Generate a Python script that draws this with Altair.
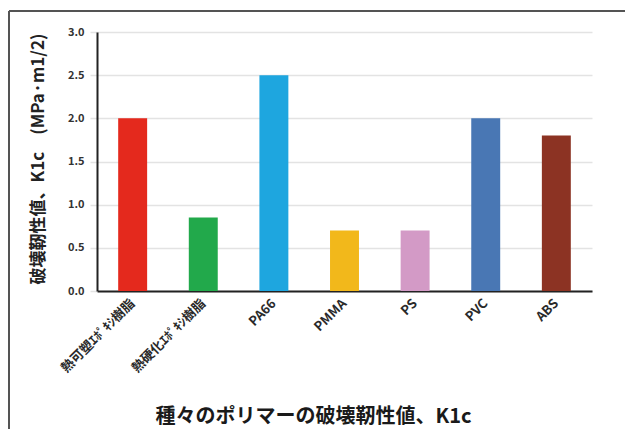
import altair as alt
import pandas as pd

# Fracture toughness K1c of common polymers
polymers = ["熱可塑ｴﾎﾟｷｼ樹脂", "熱硬化ｴﾎﾟｷｼ樹脂", "PA66", "PMMA", "PS", "PVC", "ABS"]
k1c = [2.0, 0.85, 2.5, 0.7, 0.7, 2.0, 1.8]
bar_colors = ["#E4291D", "#22A94B", "#1EA6DF", "#F2B81B", "#D39AC6", "#4977B4", "#8C3323"]
y_ticks = [0.0, 0.5, 1.0, 1.5, 2.0, 2.5, 3.0]

df = pd.DataFrame({"polymer": polymers, "k1c": k1c})

FONT = "Noto Sans CJK JP"
W, H = 495, 259

bars = alt.Chart(df).mark_bar().encode(
    x=alt.X(
        "polymer:N",
        sort=polymers,
        scale=alt.Scale(paddingInner=0.59, paddingOuter=0.3),
        axis=alt.Axis(
            title="種々のポリマーの破壊靭性値、K1c",
            titleFont=FONT,
            titleFontSize=20,
            titleFontWeight="bold",
            titleColor="#1a1a1a",
            titleX=216,
            titleY=125,
            titleAnchor="middle",
            titleAlign="center",
            titleBaseline="middle",
            labelAngle=-45,
            labelAlign="right",
            labelBaseline="middle",
            labelFont=FONT,
            labelFontSize=13,
            labelFontWeight="bold",
            labelColor="#2a2a2a",
            labelPadding=10,
            ticks=False,
            domainColor="#222222",
            domainWidth=2,
        ),
    ),
    y=alt.Y(
        "k1c:Q",
        scale=alt.Scale(domain=[0, 3]),
        axis=alt.Axis(
            values=y_ticks,
            format=".1f",
            title="破壊靭性値、K1c　(MPa·m1/2)",
            titleFont=FONT,
            titleFontSize=17,
            titleFontWeight="bold",
            titleColor="#222222",
            titleX=-59,
            titleY=H / 2 - 3,
            titleAngle=-90,
            titleAlign="center",
            titleBaseline="middle",
            labelFont=FONT,
            labelFontSize=11,
            labelFontWeight="bold",
            labelColor="#333333",
            labelPadding=6,
            tickSize=7,
            tickColor="#e3e3e3",
            tickWidth=1.5,
            grid=True,
            gridColor="#e3e3e3",
            gridWidth=1.5,
            domainColor="#222222",
            domainWidth=2,
        ),
    ),
    color=alt.Color(
        "polymer:N",
        scale=alt.Scale(domain=polymers, range=bar_colors),
        legend=None,
    ),
)

# thin frame along the top and left edges of the figure
frame_top = alt.Chart(df).mark_rule(color="#555555", strokeWidth=1.5).encode(
    x=alt.value(-88), x2=alt.value(540), y=alt.value(-21)
)
frame_left = alt.Chart(df).mark_rule(color="#555555", strokeWidth=1.5).encode(
    x=alt.value(-88), y=alt.value(-21), y2=alt.value(400)
)

chart = (
    alt.layer(bars, frame_top, frame_left)
    .properties(
        width=W,
        height=H,
        autosize=alt.AutoSizeParams(type="none"),
        padding={"left": 97, "top": 32, "right": 33, "bottom": 138},
        background="white",
    )
    .configure_view(stroke=None)
)

chart.save("out.html", embed_options={"renderer": "svg", "actions": False})
